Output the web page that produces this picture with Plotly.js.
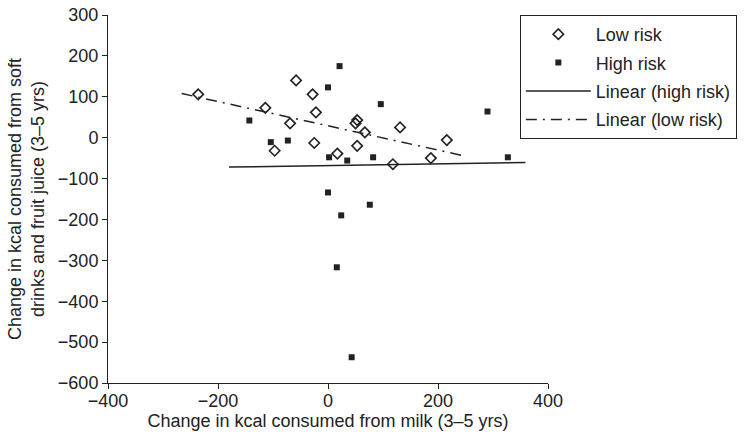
<!DOCTYPE html>
<html>
<head>
<meta charset="utf-8">
<script src="https://cdn.plot.ly/plotly-3.0.1.min.js"></script>
<style>html,body{margin:0;padding:0;background:#fff;}#chart{width:752px;height:444px;}</style>
</head>
<body>
<div id="chart"></div>
<script>
// Low risk (open diamonds)
var lowX = [-236, -58, -28, -114, -22, -69, 53, 50, 67, 131, -97, -25, 17, 53, 118, 187, 216];
var lowY = [106, 140, 106, 73, 62, 35, 43, 35, 13, 25, -32, -13, -39, -20, -65, -50, -6];
// High risk (filled squares)
var highX = [21, 0, -143, -104, -73, 2, 35, 0, 96, 290, 82, 327, 76, 24, 16, 43];
var highY = [175, 123, 42, -11, -7, -48, -56, -134, 82, 64, -48, -48, -164, -190, -317, -537];
// Trend lines (endpoints)
var trendHighX = [-180, 359];
var trendHighY = [-72, -61];
var trendLowX = [-266, 246];
var trendLowY = [108, -44];
var names = ['Low risk', 'High risk', 'Linear (high risk)', 'Linear (low risk)'];
var xTicks = [-400, -200, 0, 200, 400];
var yTicks = [-600, -500, -400, -300, -200, -100, 0, 100, 200, 300];

var ink = '#222';
var fnt = {family: 'Liberation Sans, Arial, sans-serif', size: 18, color: ink};

var traces = [
  {x: lowX, y: lowY, type: 'scatter', mode: 'markers', name: names[0], legendgroup: 'a',
   marker: {symbol: 'diamond-open', size: 8, color: ink, line: {width: 1.6, color: ink}}},
  {x: highX, y: highY, type: 'scatter', mode: 'markers', name: names[1], legendgroup: 'b',
   marker: {symbol: 'square', size: 6, color: ink}},
  {x: trendHighX, y: trendHighY, type: 'scatter', mode: 'lines', name: names[2], legendgroup: 'c',
   line: {color: ink, width: 1.5}},
  {x: trendLowX, y: trendLowY, type: 'scatter', mode: 'lines', name: names[3], legendgroup: 'd',
   line: {color: ink, width: 1.5, dash: '11px,6px,2px,6px'}}
];

function lab(v) { return v < 0 ? '\u2212' + (-v) : String(v); }

var layout = {
  width: 752, height: 444,
  margin: {l: 108, r: 204, t: 15, b: 61},
  paper_bgcolor: '#fff', plot_bgcolor: '#fff',
  font: fnt,
  showlegend: true,
  legend: {x: 0.936, y: 1, xanchor: 'left', yanchor: 'top', bgcolor: '#fff',
           bordercolor: ink, borderwidth: 1, font: fnt, itemwidth: 65, tracegroupgap: 2},
  xaxis: {range: [-400, 400], tickvals: xTicks, ticktext: xTicks.map(lab),
          showgrid: false, zeroline: false, showline: true, linecolor: ink, linewidth: 1,
          ticks: 'outside', ticklen: 5, tickcolor: ink, tickfont: fnt, ticklabelstandoff: -4,
          title: {text: 'Change in kcal consumed from milk (3\u20135 yrs)', font: fnt, standoff: 4}},
  yaxis: {range: [-600, 300], tickvals: yTicks, ticktext: yTicks.map(lab),
          showgrid: false, zeroline: false, showline: true, linecolor: ink, linewidth: 1,
          ticks: 'outside', ticklen: 5, tickcolor: ink, tickfont: fnt,
          title: {text: 'Change in kcal consumed from soft<br>drinks and fruit juice (3\u20135 yrs)', font: fnt, standoff: 8}}
};

Plotly.newPlot('chart', traces, layout, {displayModeBar: false, staticPlot: true});
</script>
</body>
</html>
